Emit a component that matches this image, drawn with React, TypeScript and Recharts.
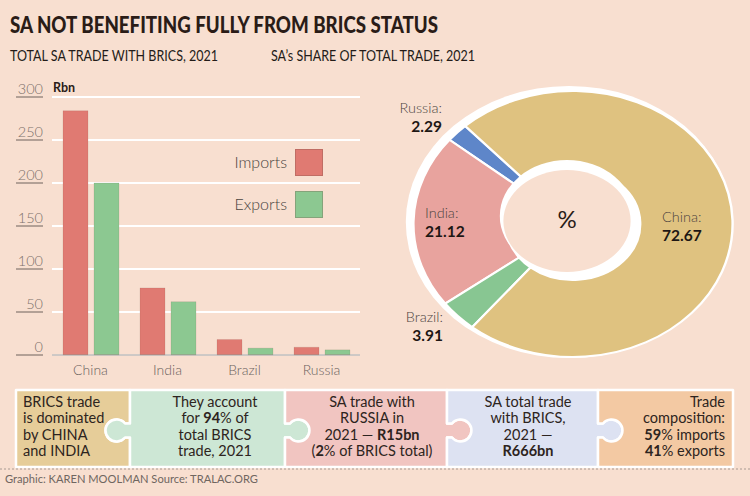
import React from 'react';
import { BarChart, Bar, XAxis, YAxis, CartesianGrid, PieChart, Pie, Cell } from 'recharts';

// Total SA trade with BRICS, 2021 (Rbn)
const countries = ['China', 'India', 'Brazil', 'Russia'];
const importsRbn = [284, 78, 18, 9];
const exportsRbn = [200, 62, 8, 6];
const yTicks = [0, 50, 100, 150, 200, 250, 300];

// SA's share of total trade, 2021 (%)
const shareNames = ['Russia', 'India', 'Brazil', 'China'];
const shareValues = [2.29, 21.12, 3.91, 72.67];

const series = [
  { key: 'imports', name: 'Imports', color: '#e07a72' },
  { key: 'exports', name: 'Exports', color: '#8cc891' },
];
const shareColors: Record<string, string> = {
  Russia: '#5e86c9',
  India: '#e8a39e',
  Brazil: '#88c692',
  China: '#dfc280',
};

const barData = countries.map((c, i) => ({ name: c, imports: importsRbn[i], exports: exportsRbn[i] }));
const pieData = shareNames.map((n, i) => ({ name: n, value: shareValues[i] }));

// label placement around the donut
const labelPos: Record<string, { x: number; y: number; align: 'left' | 'right' }> = {
  Russia: { x: 442, y: 99, align: 'right' },
  India: { x: 425, y: 204, align: 'left' },
  China: { x: 662, y: 208, align: 'left' },
  Brazil: { x: 443, y: 308, align: 'right' },
};

const BG = '#f8dfd0';
const SX = 1.2; // donut is drawn squashed

const YTick = ({ y, payload }: any) => (
  <g>
    <line x1={16} x2={43} y1={y} y2={y} stroke="#6e625c" strokeWidth={1} />
    <text x={43} y={y - 3} textAnchor="end" fontSize={14.5} fill="#7d716b" fontFamily="Lato" fontWeight={300}>
      {payload.value}
    </text>
  </g>
);

// puzzle strip
const pieces = [
  { color: '#e6cd99', lines: [['BRICS trade'], ['is dominated'], ['by CHINA'], ['and INDIA']], align: 'left', tx: 23 },
  { color: '#cde7d5', lines: [['They account'], ['for ', '94', '% of'], ['total BRICS'], ['trade, 2021']], align: 'center', tx: 215 },
  { color: '#f1c5c1', lines: [['SA trade with'], ['RUSSIA in'], ['2021 — ', 'R15bn'], ['(', '2', '% of BRICS total)']], align: 'center', tx: 372 },
  { color: '#dde2f2', lines: [['SA total trade'], ['with BRICS,'], ['2021 —'], ['', 'R666bn']], align: 'center', tx: 528 },
  { color: '#f3c9a3', lines: [['Trade'], ['composition:'], ['', '59', '% imports'], ['', '41', '% exports']], align: 'right', tx: 725 },
];
const bounds = [16, 130, 285, 447, 598, 733];
const knobDir = [-1, 1, 1, 1];
const PY0 = 390;
const PY1 = 467;

const edge = (x: number, dir: number, down: boolean) => {
  const m = (PY0 + PY1) / 2 + 2;
  const n = 7;
  const r = 11;
  const sweep = (down ? dir === 1 : dir === -1) ? 1 : 0;
  if (down)
    return `L${x},${m - n} L${x + dir * 5},${m - n} A${r},${r} 0 1 ${sweep} ${x + dir * 5},${m + n} L${x},${m + n} L${x},${PY1}`;
  return `L${x},${m + n} L${x + dir * 5},${m + n} A${r},${r} 0 1 ${sweep} ${x + dir * 5},${m - n} L${x},${m - n} L${x},${PY0}`;
};

const piecePath = (i: number) => {
  const x0 = bounds[i];
  const x1 = bounds[i + 1];
  let d = `M${x0},${PY0} L${x1},${PY0} `;
  d += i < knobDir.length ? edge(x1, knobDir[i], true) : `L${x1},${PY1}`;
  d += ` L${x0},${PY1} `;
  d += i > 0 ? edge(x0, knobDir[i - 1], false) : `L${x0},${PY0}`;
  return d + ' Z';
};

export default function App() {
  return (
    <div style={{ position: 'absolute', left: 0, top: 0, width: 750, height: 496, background: BG, overflow: 'hidden', fontFamily: 'Lato' }}>
      <svg width={750} height={496} style={{ position: 'absolute', left: 0, top: 0 }}>
        <text x={10} y={33} fontSize={22} fontWeight={900} fill="#2a1c17" textLength={428} lengthAdjust="spacingAndGlyphs" fontFamily="Lato">
          SA NOT BENEFITING FULLY FROM BRICS STATUS
        </text>
        <text x={10} y={61} fontSize={15.5} fill="#241c18" textLength={208} lengthAdjust="spacingAndGlyphs" fontFamily="Lato">
          TOTAL SA TRADE WITH BRICS, 2021
        </text>
        <text x={271} y={61} fontSize={15.5} fill="#241c18" textLength={204} lengthAdjust="spacingAndGlyphs" fontFamily="Lato">
          SA’s SHARE OF TOTAL TRADE, 2021
        </text>
        <text x={53} y={92} fontSize={12.5} fontWeight={700} fill="#2a1c17" fontFamily="Lato">Rbn</text>
        {pieces.map((p, i) => (
          <path key={i} d={piecePath(i)} fill={p.color} stroke="#fff" strokeWidth={2.5} strokeLinejoin="round" />
        ))}
        <line x1={0} x2={750} y1={469} y2={469} stroke="#a89a92" strokeWidth={1} strokeDasharray="2 2" />
        <text x={5} y={483} fontSize={11.5} fill="#6f6660" textLength={253} lengthAdjust="spacingAndGlyphs" fontFamily="Lato">
          Graphic: KAREN MOOLMAN  Source: TRALAC.ORG
        </text>
        {/* white rim behind donut, offset like a shadow */}
        <ellipse cx={569} cy={222} rx={136 * SX} ry={136} fill="#fff" />
      </svg>

      {pieces.map((p, i) => (
        <div
          key={i}
          style={{
            position: 'absolute',
            top: 394,
            left: p.align === 'left' ? p.tx : p.align === 'center' ? p.tx - 80 : p.tx - 160,
            width: 160,
            textAlign: p.align as any,
            fontSize: 14.5,
            lineHeight: '16.3px',
            color: '#2d2420',
            whiteSpace: 'nowrap',
          }}
        >
          {p.lines.map((ln, j) => (
            <div key={j}>
              {ln.map((s, k) => (k % 2 === 1 ? <b key={k}>{s}</b> : <span key={k}>{s}</span>))}
            </div>
          ))}
        </div>
      ))}

      <div style={{ position: 'absolute', left: 0, top: 0 }}>
        <BarChart width={370} height={385} data={barData} margin={{ top: 97, right: 10, left: 0, bottom: 0 }} barSize={25} barGap={6}>
          <CartesianGrid horizontal vertical={false} stroke="#ffffff" strokeWidth={2} />
          <YAxis width={52} domain={[0, 300]} ticks={yTicks} axisLine={false} tickLine={false} tick={<YTick />} />
          <XAxis
            dataKey="name"
            height={30}
            axisLine={{ stroke: '#9c928c' }}
            tickLine={false}
            tickMargin={4}
            tick={{ fill: '#6b625d', fontSize: 14, fontFamily: 'Lato', fontWeight: 300 }}
          />
          {series.map((s) => (
            <Bar key={s.key} dataKey={s.key} name={s.name} fill={s.color} stroke="rgba(120,80,70,0.25)" strokeWidth={0.5} isAnimationActive={false} />
          ))}
        </BarChart>
      </div>

      {/* legend */}
      {series.map((s, i) => (
        <div key={s.key} style={{ position: 'absolute', left: 200, top: 149 + i * 42, width: 123, height: 27 }}>
          <span style={{ position: 'absolute', right: 36, top: 3, fontSize: 16, color: '#4a4440', fontWeight: 300 }}>{s.name}</span>
          <div style={{ position: 'absolute', right: 0, top: 0, width: 28, height: 27, background: s.color, boxSizing: 'border-box', border: '1px solid rgba(120,80,70,0.3)' }} />
        </div>
      ))}

      {/* donut */}
      <div style={{ position: 'absolute', left: 567 - 150, top: 219 - 150, width: 300, height: 300, transform: `scaleX(${SX})`, transformOrigin: '150px 150px' }}>
        <PieChart width={300} height={300}>
          <Pie
            data={pieData}
            dataKey="value"
            nameKey="name"
            cx={150}
            cy={150}
            innerRadius={56}
            outerRadius={133}
            startAngle={132.5}
            endAngle={492.5}
            stroke="#ffffff"
            strokeWidth={2}
            isAnimationActive={false}
          >
            {pieData.map((d) => (
              <Cell key={d.name} fill={shareColors[d.name]} />
            ))}
          </Pie>
        </PieChart>
      </div>
      <svg width={750} height={496} style={{ position: 'absolute', left: 0, top: 0, pointerEvents: 'none' }}>
        <ellipse cx={567} cy={216} rx={56 * SX} ry={56} fill="#fff" />
        <ellipse cx={567} cy={221} rx={53 * SX} ry={51} fill={BG} />
        <text x={567} y={228} textAnchor="middle" fontSize={24} fill="#2a1c17" fontFamily="Lato">%</text>
      </svg>

      {pieData.map((d) => {
        const p = labelPos[d.name];
        return (
          <div
            key={d.name}
            style={{
              position: 'absolute',
              top: p.y,
              left: p.align === 'left' ? p.x : p.x - 100,
              width: 100,
              textAlign: p.align,
              lineHeight: '18px',
            }}
          >
            <div style={{ fontSize: 14.5, color: '#4d4540', fontWeight: 300 }}>{d.name}:</div>
            <div style={{ fontSize: 15.5, color: '#1e1714', fontWeight: 700 }}>{d.value.toFixed(2)}</div>
          </div>
        );
      })}
    </div>
  );
}
